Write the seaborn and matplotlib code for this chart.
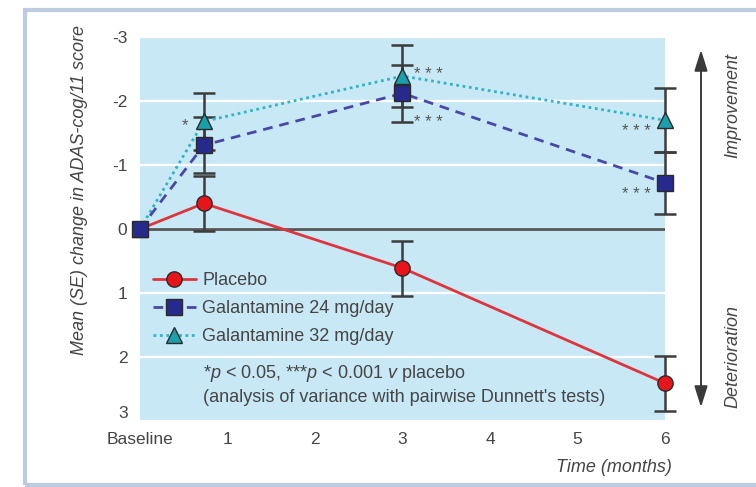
import numpy as np
import pandas as pd
import matplotlib
matplotlib.use("Agg")
import matplotlib.pyplot as plt
import seaborn as sns
from matplotlib import font_manager
from matplotlib.patches import Rectangle, FancyArrowPatch

# ---------------- data ----------------
months = [0, 0.73, 3, 6]
placebo = [0, -0.40, 0.61, 2.41]
placebo_se = [0, 0.43, 0.43, 0.43]
gal24 = [0, -1.31, -2.12, -0.72]
gal24_se = [0, 0.44, 0.45, 0.48]
gal32 = [0, -1.68, -2.39, -1.70]
gal32_se = [0, 0.45, 0.48, 0.50]
groups = ["Placebo", "Galantamine 24 mg/day", "Galantamine 32 mg/day"]
x_ticks = [0, 1, 2, 3, 4, 5, 6]
x_ticklabels = ["Baseline", "1", "2", "3", "4", "5", "6"]
y_ticks = [-3, -2, -1, 0, 1, 2, 3]
y_ticklabels = ["-3", "-2", "-1", "0", "1", "2", "3"]
# significance markers: (month, value, label)
star_x = [0.73, 3, 3, 6, 6]
star_y = [-1.68, -2.48, -1.72, -1.58, -0.60]
star_lbl = ["*", "* * *", "* * *", "* * *", "* * *"]

# ---------------- style ----------------
sns.set_style("white", {"axes.facecolor": "#c8e8f6"})
avail = {f.name for f in font_manager.fontManager.ttflist}
fam = "Liberation Sans Narrow" if "Liberation Sans Narrow" in avail else "Liberation Sans"
plt.rcParams["font.family"] = [fam, "DejaVu Sans"]
plt.rcParams["mathtext.fontset"] = "custom"
plt.rcParams["mathtext.it"] = fam + ":italic"
plt.rcParams["mathtext.rm"] = fam
txt_col = "#454545"
fs = 13
tfs = 12.5

df = pd.DataFrame({
    "month": months * 3,
    "change": placebo + gal24 + gal32,
    "se": placebo_se + gal24_se + gal32_se,
    "group": [groups[0]] * 4 + [groups[1]] * 4 + [groups[2]] * 4,
})

fig = plt.figure(figsize=(7.56, 4.87), dpi=100)
ax = fig.add_axes([140 / 756, 1 - 421 / 487, 525 / 756, 384 / 487])

styles = {
    groups[0]: dict(line="#e0343c", face="#e8141c", marker="o", ms=11, ls="-"),
    groups[2]: dict(line="#30b4c8", face="#1aa0ac", marker="^", ms=12, ls=(0, (1, 1.3))),
    groups[1]: dict(line="#4848a8", face="#262a8c", marker="s", ms=11, ls=(0, (3.5, 2.5))),
}

handles = {}
for g in [groups[0], groups[2], groups[1]]:
    sub = df[df.group == g]
    st = styles[g]
    eb = ax.errorbar(sub.month[sub.se > 0], sub.change[sub.se > 0], yerr=sub.se[sub.se > 0],
                     fmt="none", ecolor="#3c3c3c", elinewidth=1.8, capsize=8, capthick=1.8,
                     zorder=3)
    for art in eb.lines:
        if isinstance(art, tuple):
            for a in art:
                a.set_clip_on(False)
        elif art is not None:
            art.set_clip_on(False)
    sns.lineplot(data=sub, x="month", y="change", ax=ax, color=st["line"], lw=2.0,
                 linestyle=st["ls"], marker=st["marker"], markersize=st["ms"],
                 markerfacecolor=st["face"], markeredgecolor="#2a2a2a", markeredgewidth=1.0,
                 clip_on=False, zorder=4, label=g, legend=False)
    handles[g] = ax.lines[-1]

ax.set_xlim(0, 6)
ax.set_ylim(3, -3)
ax.set_yticks(y_ticks)
ax.set_yticklabels(y_ticklabels)
ax.set_xticks(x_ticks)
ax.set_xticklabels(x_ticklabels)
for s in ax.spines.values():
    s.set_visible(False)
ax.yaxis.grid(True, color="white", lw=1.6, zorder=0)
ax.set_axisbelow(True)
ax.axhline(0, color="#555555", lw=2.0, zorder=2)
ax.tick_params(axis="y", length=0, pad=9, labelsize=tfs, labelcolor=txt_col)
ax.tick_params(axis="x", direction="in", length=5, width=1.2, color="white", pad=8,
               labelsize=tfs, labelcolor=txt_col)
# keep the bottom "3" from touching the Baseline label
ax.get_yticklabels()[-1].set_va("bottom")
ax.set_xlabel("")
ax.set_ylabel("")

for xs, ys, lb in zip(star_x, star_y, star_lbl):
    off = -0.22 if xs == 0.73 else (0.30 if xs == 3 else -0.33)
    ax.text(xs + off, ys + 0.06, lb, ha="center", va="center", fontsize=fs - 1, color="#555555")

leg = ax.legend([handles[g] for g in groups], groups, loc="upper left",
                bbox_to_anchor=(0.0, 0.42), frameon=False, fontsize=fs,
                handlelength=2.4, handletextpad=0.35, labelspacing=0.6, borderaxespad=0.3)
for t in leg.get_texts():
    t.set_color(txt_col)

fig.text(203 / 756, 1 - 373 / 487, "*$p$ < 0.05, ***$p$ < 0.001 $v$ placebo",
         fontsize=fs, color=txt_col, va="center", ha="left")
fig.text(203 / 756, 1 - 398 / 487, "(analysis of variance with pairwise Dunnett's tests)",
         fontsize=fs, color=txt_col, va="center", ha="left")

fig.text(80 / 756, 1 - 190 / 487, "Mean (SE) change in ADAS-cog/11 score", rotation=90,
         style="italic", fontsize=fs, color=txt_col, ha="center", va="center")
fig.text(672 / 756, 1 - 467 / 487, "Time (months)", style="italic", fontsize=fs,
         color=txt_col, ha="right", va="center")

fig.patches.append(FancyArrowPatch((701 / 756, 1 - 410 / 487), (701 / 756, 1 - 47 / 487),
                                   transform=fig.transFigure,
                                   arrowstyle="<|-|>,head_length=0.8,head_width=0.25",
                                   mutation_scale=16, color="#3a3a3a", lw=1.4))
fig.text(733 / 756, 1 - 105 / 487, "Improvement", rotation=90, style="italic",
         fontsize=fs, color=txt_col, ha="center", va="center")
fig.text(733 / 756, 1 - 356 / 487, "Deterioration", rotation=90, style="italic",
         fontsize=fs, color=txt_col, ha="center", va="center")

fig.patches.append(Rectangle((25 / 756, 1 - 485 / 487), 740 / 756, 475 / 487,
                             transform=fig.transFigure, fill=False,
                             edgecolor="#bccbe0", lw=3.0, zorder=0))

fig.savefig("out.png", dpi=100)
